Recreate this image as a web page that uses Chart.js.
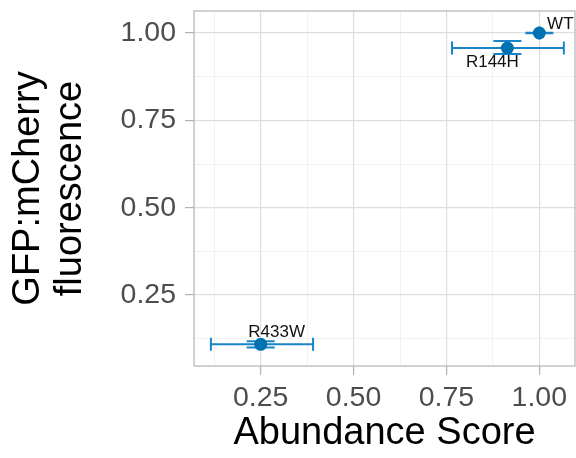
<!DOCTYPE html>
<html lang="en">
<head>
    <meta charset="UTF-8">
    <title>Abundance vs fluorescence</title>
    <script src="https://cdn.jsdelivr.net/npm/chart.js"></script>
    <style>
        body {
            margin: 0;
            padding: 0;
            background-color: #ffffff;
        }
        #wrap {
            width: 576px;
            height: 458px;
        }
    </style>
</head>
<body>
    <div id="wrap">
        <canvas id="myChart" width="576" height="458"></canvas>
    </div>

    <script>
        // data
        const variants = ['WT', 'R144H', 'R433W'];
        const abundance = [1.0, 0.914, 0.25];
        const abundanceLow = [1.0, 0.765, 0.116];
        const abundanceHigh = [1.0, 1.066, 0.391];
        const fluorescence = [1.0, 0.957, 0.109];
        const fluorescenceLow = [0.999, 0.94, 0.10];
        const fluorescenceHigh = [1.001, 0.977, 0.118];

        const xTicks = [0.125, 0.25, 0.375, 0.5, 0.625, 0.75, 0.875, 1.0];
        const yTicks = [0.125, 0.25, 0.375, 0.5, 0.625, 0.75, 0.875, 1.0];
        const majorTicks = [0.25, 0.5, 0.75, 1.0];

        const FONT = "'Liberation Sans', Arial, sans-serif";
        const isMajor = v => majorTicks.some(m => Math.abs(m - v) < 1e-6);

        // label placement in pixels relative to each point
        const labelOffsets = [[21, -4], [-15, 19], [16, -7]];

        const errorBars = {
            id: 'errorBars',
            beforeDatasetsDraw(chart) {
                const { ctx, scales: { x, y } } = chart;
                ctx.save();
                ctx.strokeStyle = '#1a84c7';
                ctx.lineWidth = 2;
                variants.forEach((v, i) => {
                    const px = x.getPixelForValue(abundance[i]);
                    const py = y.getPixelForValue(fluorescence[i]);
                    // horizontal bar
                    const x0 = x.getPixelForValue(abundanceLow[i]);
                    const x1 = x.getPixelForValue(abundanceHigh[i]);
                    ctx.beginPath();
                    ctx.moveTo(x0, py); ctx.lineTo(x1, py);
                    ctx.moveTo(x0, py - 6.5); ctx.lineTo(x0, py + 6.5);
                    ctx.moveTo(x1, py - 6.5); ctx.lineTo(x1, py + 6.5);
                    ctx.stroke();
                    // vertical bar
                    const y0 = y.getPixelForValue(fluorescenceLow[i]);
                    const y1 = y.getPixelForValue(fluorescenceHigh[i]);
                    ctx.beginPath();
                    ctx.moveTo(px, y0); ctx.lineTo(px, y1);
                    ctx.moveTo(px - 14, y0); ctx.lineTo(px + 14, y0);
                    ctx.moveTo(px - 14, y1); ctx.lineTo(px + 14, y1);
                    ctx.stroke();
                });
                ctx.restore();
            },
            afterDatasetsDraw(chart) {
                const { ctx, chartArea, scales: { x, y } } = chart;
                ctx.save();
                ctx.fillStyle = '#111111';
                ctx.font = '17px ' + FONT;
                ctx.textAlign = 'center';
                ctx.textBaseline = 'alphabetic';
                variants.forEach((v, i) => {
                    const px = x.getPixelForValue(abundance[i]);
                    const py = y.getPixelForValue(fluorescence[i]);
                    ctx.fillText(v, px + labelOffsets[i][0], py + labelOffsets[i][1]);
                });
                // panel border
                ctx.strokeStyle = '#b3b3b3';
                ctx.lineWidth = 1.2;
                ctx.strokeRect(chartArea.left, chartArea.top,
                    chartArea.right - chartArea.left, chartArea.bottom - chartArea.top);
                ctx.restore();
            }
        };

        const gridStyle = {
            color: c => isMajor(c.tick.value) ? '#dedede' : '#ececec',
            lineWidth: c => isMajor(c.tick.value) ? 1.2 : 0.7,
            tickColor: c => isMajor(c.tick.value) ? '#b3b3b3' : 'rgba(0,0,0,0)',
            tickLength: 9,
            drawOnChartArea: true
        };

        const ctx = document.getElementById('myChart').getContext('2d');
        const myChart = new Chart(ctx, {
            type: 'scatter',
            data: {
                datasets: [{
                    data: variants.map((v, i) => ({ x: abundance[i], y: fluorescence[i] })),
                    backgroundColor: '#0072B2',
                    borderWidth: 0,
                    pointRadius: 6.5,
                    pointHoverRadius: 6.5
                }]
            },
            options: {
                responsive: false,
                animation: false,
                layout: { autoPadding: false, padding: { top: 11, right: 1, left: 0, bottom: 0 } },
                plugins: {
                    legend: { display: false },
                    tooltip: { enabled: false }
                },
                scales: {
                    x: {
                        type: 'linear',
                        min: 0.0705,
                        max: 1.096,
                        afterBuildTicks: s => { s.ticks = xTicks.map(v => ({ value: v })); },
                        afterFit: s => {
                            s.height = 92;
                            s.paddingLeft = 0;
                            s.paddingRight = 0;
                        },
                        grid: gridStyle,
                        border: { display: false },
                        ticks: {
                            color: '#4d4d4d',
                            font: { family: FONT, size: 28.5 },
                            padding: 6,
                            maxRotation: 0,
                            autoSkip: false,
                            callback: v => isMajor(v) ? v.toFixed(2) : ''
                        },
                        title: {
                            display: true,
                            text: 'Abundance Score',
                            color: '#000000',
                            font: { family: FONT, size: 38 },
                            padding: { top: 0, bottom: 2 }
                        }
                    },
                    y: {
                        type: 'linear',
                        min: 0.047,
                        max: 1.063,
                        afterBuildTicks: s => { s.ticks = yTicks.map(v => ({ value: v })); },
                        afterFit: s => {
                            s.width = 194;
                            s.paddingTop = 0;
                            s.paddingBottom = 0;
                        },
                        grid: gridStyle,
                        border: { display: false },
                        ticks: {
                            color: '#4d4d4d',
                            font: { family: FONT, size: 28.5 },
                            padding: 9,
                            autoSkip: false,
                            callback: v => isMajor(v) ? v.toFixed(2) : ''
                        },
                        title: {
                            display: true,
                            text: ['GFP:mCherry', 'fluorescence'],
                            color: '#000000',
                            font: { family: FONT, size: 38, lineHeight: 1.1 },
                            padding: { top: 8, bottom: 0 }
                        }
                    }
                }
            },
            plugins: [errorBars]
        });
    </script>
</body>
</html>
